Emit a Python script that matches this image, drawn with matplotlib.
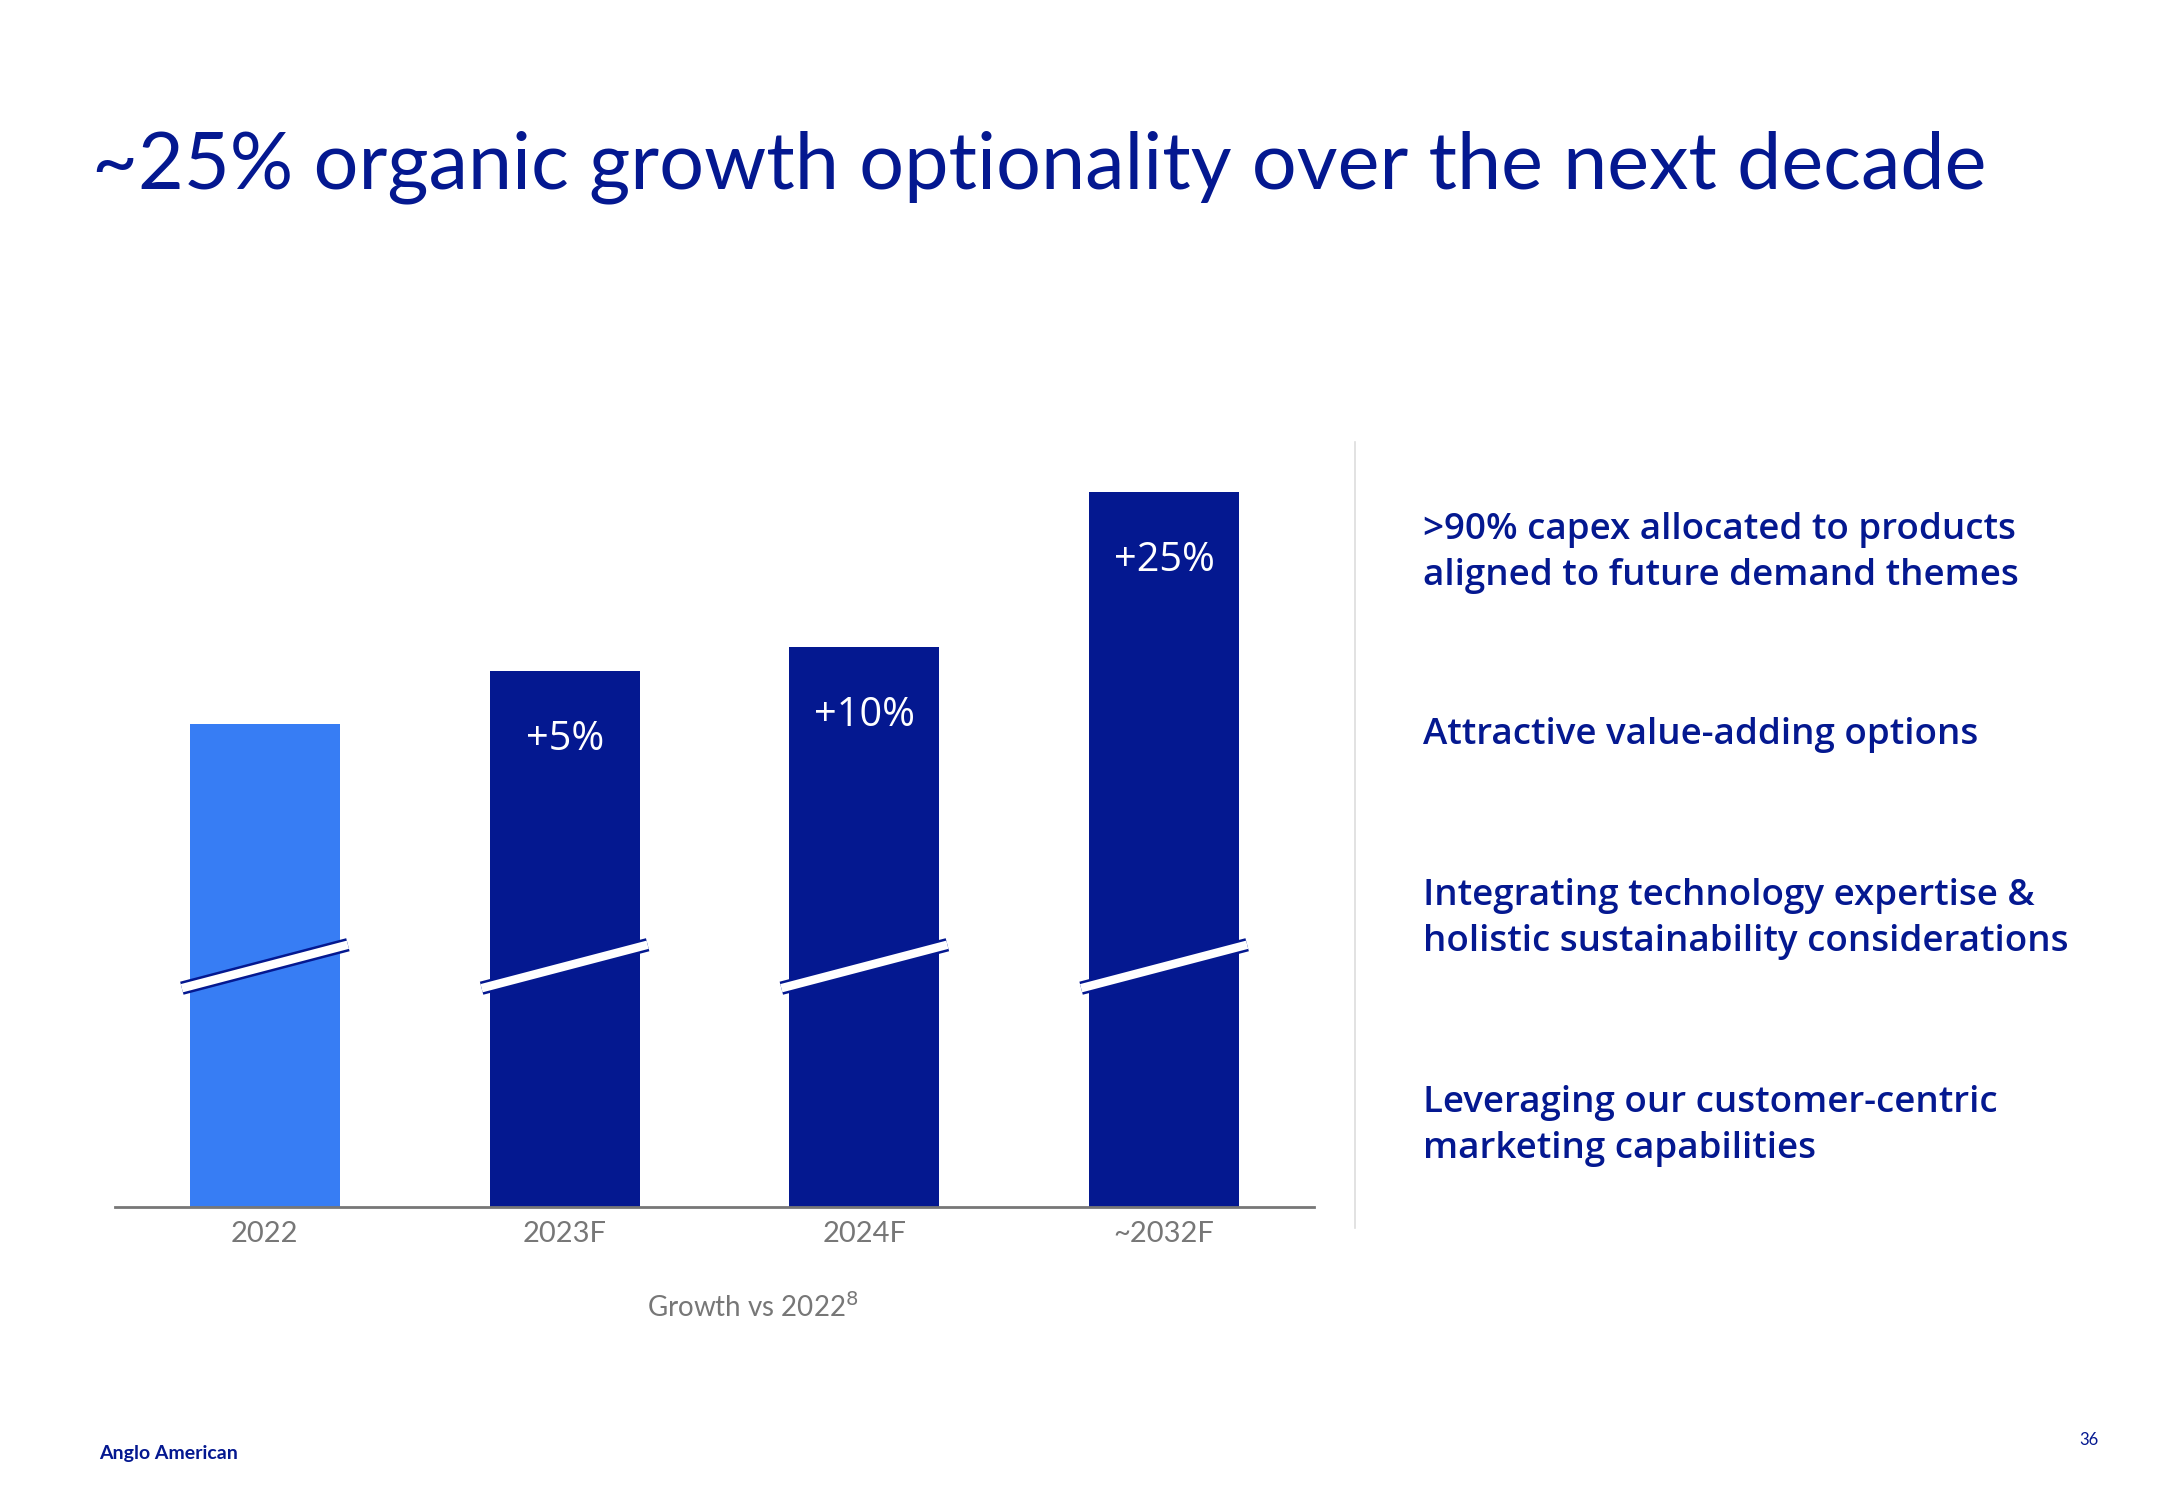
import matplotlib
matplotlib.use("Agg")
from matplotlib import pyplot as plt

# data
years = ["2022", "2023F", "2024F", "~2032F"]
bar_heights = [100, 111, 116, 148]          # visual height (axis is broken)
growth_labels = ["", "+5%", "+10%", "+25%"]
bullets = [
    ">90% capex allocated to products\naligned to future demand themes",
    "Attractive value-adding options",
    "Integrating technology expertise &\nholistic sustainability considerations",
    "Leveraging our customer-centric\nmarketing capabilities",
]
bullet_y = [553, 735, 919, 1126]   # pixel centre of each bullet block

NAVY = "#041890"
LIGHT = "#377DF4"
GREY = "#777777"

W, H = 2166, 1500
plt.rcParams["font.family"] = ["Lato", "DejaVu Sans"]

fig = plt.figure(figsize=(W / 100, H / 100), dpi=100)
fig.patch.set_facecolor("white")

def fx(px):
    return px / W

def fy(py):
    return 1 - py / H

# axes: x from 115px to 1314px, baseline at 1207px, 4.83 px per unit
ymax = 160
ax_top = 1207 - ymax * 4.83
ax = fig.add_axes([fx(115), fy(1207), fx(1314) - fx(115), (1207 - ax_top) / H])
ax.set_xlim(-0.5, 3.5)
ax.set_ylim(0, ymax)

x = list(range(len(years)))
colors = [LIGHT] + [NAVY] * (len(years) - 1)
ax.bar(x, bar_heights, width=0.5, color=colors, zorder=2)

# broken-axis marks
for xi in x:
    xs = [xi - 0.277, xi + 0.277]
    ys = [45.3, 54.3]
    ax.plot(xs, ys, color=NAVY, lw=9.7, solid_capstyle="butt", zorder=3)
    ax.plot(xs, ys, color="white", lw=6.1, solid_capstyle="butt", zorder=4)

for xi, h, lab in zip(x, bar_heights, growth_labels):
    if lab:
        ax.text(xi, h - 14.3, lab, color="white", ha="center", va="center",
                fontsize=28.5, family=["Open Sans", "DejaVu Sans"], zorder=5)

for s in ["top", "right", "left"]:
    ax.spines[s].set_visible(False)
ax.spines["bottom"].set_color(GREY)
ax.spines["bottom"].set_linewidth(2)
ax.set_yticks([])
ax.set_xticks(x)
ax.set_xticklabels(years, color=GREY, fontsize=21)
ax.tick_params(axis="x", length=0, pad=10)

fig.text(fx(753), fy(1307), "Growth vs 2022$^{8}$", color=GREY, fontsize=20,
         ha="center", va="center")

# title
fig.text(fx(92), fy(167), "~25% organic growth optionality over the next decade",
         color=NAVY, fontsize=57, fontweight="normal", ha="left", va="center")

# separator
fig.add_artist(plt.Line2D([fx(1355), fx(1355)], [fy(442), fy(1228)],
                          color="#DDDDDD", lw=1.2))

for txt, yy in zip(bullets, bullet_y):
    fig.text(fx(1423), fy(yy), txt, color=NAVY, fontsize=26.5, fontweight="semibold",
             family=["Open Sans", "DejaVu Sans"],
             ha="left", va="center", linespacing=1.4)

fig.text(fx(99), fy(1454), "Anglo American", color=NAVY, fontsize=14,
         fontweight="bold", ha="left", va="center")
fig.text(fx(2089), fy(1440), "36", color=NAVY, fontsize=12, ha="center", va="center")

fig.savefig("out.png", dpi=100, facecolor="white")
